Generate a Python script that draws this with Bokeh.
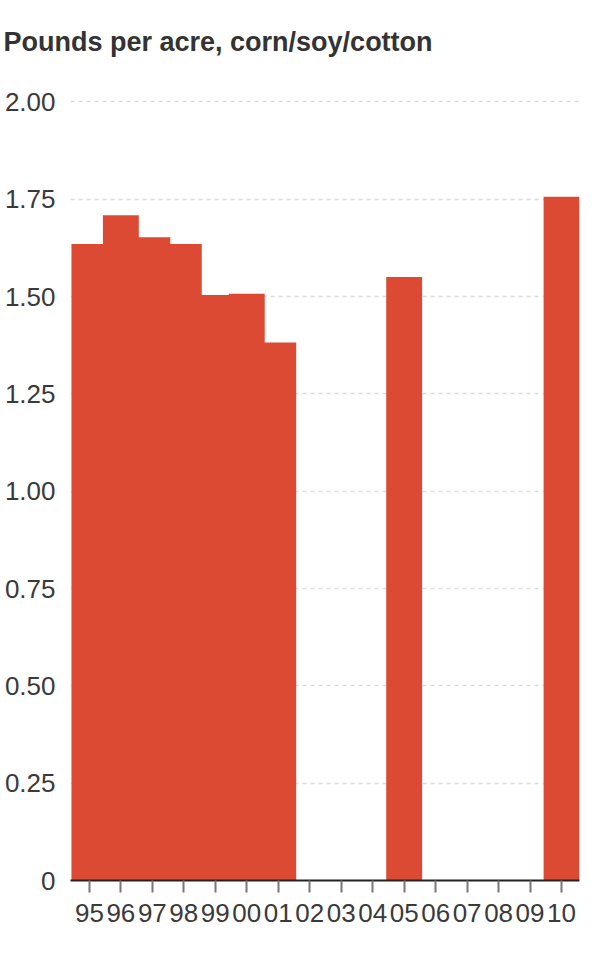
from bokeh.plotting import figure
from bokeh.models import Range1d, FixedTicker, CustomJSTickFormatter, ColumnDataSource
from bokeh.embed import file_html
from bokeh.resources import INLINE

title_text = "Pounds per acre, corn/soy/cotton"
years = ["95", "96", "97", "98", "99", "00", "01", "02", "03", "04",
         "05", "06", "07", "08", "09", "10"]
values = [1.635, 1.709, 1.652, 1.635, 1.504, 1.507, 1.382, None, None, None,
          1.550, None, None, None, None, 1.756]
y_ticks = [0, 0.25, 0.5, 0.75, 1.0, 1.25, 1.5, 1.75, 2.0]

xs = [i for i, v in enumerate(values) if v is not None]
tops = [v for v in values if v is not None]
src = ColumnDataSource(dict(x=xs, top=tops))

FONT = "Liberation Sans"

p = figure(width=600, height=969, output_backend="svg", toolbar_location=None,
           x_range=Range1d(-0.6, 15.57), y_range=Range1d(0, 2.006),
           min_border_left=70, min_border_right=21, min_border_top=100,
           min_border_bottom=70, outline_line_color=None)
p.styles = {"margin-top": "-19px"}

p.vbar(x="x", top="top", width=1.14, bottom=0, source=src,
       fill_color="#dd4a33", line_color=None)

p.title.text = title_text
p.title.text_font = FONT
p.title.text_font_size = "27px"
p.title.text_font_style = "bold"
p.title.text_color = "#333333"
p.title.align = "left"
p.title.vertical_align = "bottom"
p.title.offset = -67
p.title.standoff = 86

p.xgrid.grid_line_color = None
p.ygrid.grid_line_color = "#d9d9d9"
p.ygrid.grid_line_dash = "4 4"
p.ygrid.grid_line_width = 1.5
p.ygrid.ticker = FixedTicker(ticks=y_ticks)

p.yaxis.ticker = FixedTicker(ticks=y_ticks)
p.yaxis.formatter = CustomJSTickFormatter(code="return tick == 0 ? '0' : tick.toFixed(2);")
p.yaxis.axis_line_color = None
p.yaxis.major_tick_line_color = None
p.yaxis.minor_tick_line_color = None
p.yaxis.major_tick_out = 0
p.yaxis.major_tick_in = 0
p.yaxis.minor_tick_out = 0
p.yaxis.minor_tick_in = 0
p.yaxis.major_label_standoff = 15
p.yaxis.major_label_text_font = FONT
p.yaxis.major_label_text_font_size = "26px"
p.yaxis.major_label_text_color = "#3a3a3a"

p.xaxis.ticker = FixedTicker(ticks=list(range(len(years))))
p.xaxis.formatter = CustomJSTickFormatter(args=dict(labels=years),
                                          code="return labels[Math.round(tick)];")
p.xaxis.axis_line_color = "#222222"
p.xaxis.axis_line_width = 2
p.xaxis.major_tick_line_color = "#777777"
p.xaxis.major_tick_line_width = 2
p.xaxis.major_tick_in = 0
p.xaxis.major_tick_out = 12
p.xaxis.minor_tick_line_color = None
p.xaxis.minor_tick_out = 0
p.xaxis.major_label_standoff = 11
p.xaxis.major_label_text_font = FONT
p.xaxis.major_label_text_font_size = "26px"
p.xaxis.major_label_text_color = "#3a3a3a"

open("out.html", "w").write(file_html(p, INLINE))
